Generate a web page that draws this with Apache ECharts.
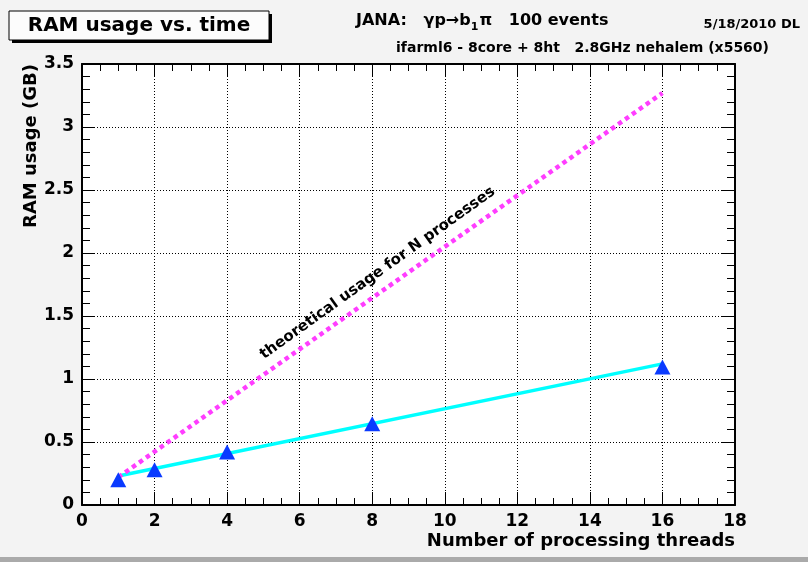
<!DOCTYPE html>
<html>
<head>
<meta charset="utf-8">
<script src="https://cdn.jsdelivr.net/npm/echarts@6/dist/echarts.min.js"></script>
<style>
  html, body { margin: 0; padding: 0; background: #f3f3f3; }
  #main { width: 808px; height: 562px; }
</style>
</head>
<body>
<div id="main"></div>
<script>
  // measured points (threads -> RAM in GB)
  let threads = [1, 2, 4, 8, 16];
  let ramGB = [0.20, 0.28, 0.42, 0.645, 1.095];
  // straight-line fit through the points
  let fitX = [1, 16];
  let fitY = [0.23, 1.12];
  // theoretical usage for N separate processes
  let theoryX = [1, 16];
  let theoryY = [0.22, 3.27];

  let font = 'DejaVu Sans';

  function frameAxis(position, isX, showLabel) {
    return {
      type: 'value',
      position: position,
      min: 0,
      max: isX ? 18 : 3.5,
      interval: isX ? 2 : 0.5,
      axisLine: { show: true, onZero: false, lineStyle: { color: '#000', width: 2 } },
      axisTick: { show: true, inside: true, length: 13, lineStyle: { color: '#000', width: 1 } },
      minorTick: { show: true, splitNumber: isX ? 4 : 5, length: isX ? 7 : 8, lineStyle: { color: '#000', width: 1 } },
      axisLabel: {
        show: showLabel,
        margin: 8,
        color: '#000',
        fontFamily: font,
        fontWeight: 'bold',
        fontSize: 17
      },
      splitLine: { show: showLabel, lineStyle: { color: '#000', width: 1, type: [1, 2] } }
    };
  }

  function pairs(xs, ys) {
    return xs.map(function (x, i) { return [x, ys[i]]; });
  }

  let chart = echarts.init(document.getElementById('main'));

  let option = {
    backgroundColor: '#f3f3f3',
    animation: false,
    grid: {
      left: 82, right: 73, top: 64, bottom: 57,
      show: true, backgroundColor: '#fff', borderWidth: 0
    },
    xAxis: [frameAxis('bottom', true, true), frameAxis('top', true, false)],
    yAxis: [frameAxis('left', false, true), frameAxis('right', false, false)],
    series: [
      {
        name: 'fit',
        type: 'line',
        data: pairs(fitX, fitY),
        symbol: 'none',
        lineStyle: { color: '#00ffff', width: 3.5 },
        z: 3
      },
      {
        name: 'theoretical',
        type: 'line',
        data: pairs(theoryX, theoryY),
        symbol: 'none',
        lineStyle: { color: '#ff3dff', width: 4.5, type: [4.5, 4], cap: 'butt' },
        z: 3
      },
      {
        name: 'RAM',
        type: 'scatter',
        data: pairs(threads, ramGB),
        symbol: 'triangle',
        symbolSize: [16, 15],
        itemStyle: { color: '#0a3aff', opacity: 1 },
        z: 5
      }
    ],
    graphic: [
      // title box with shadow
      { type: 'rect', shape: { x: 12, y: 14, width: 260, height: 29 }, style: { fill: '#000' } },
      { type: 'rect', shape: { x: 9, y: 11, width: 260, height: 29 }, style: { fill: '#fcfcfc', stroke: '#000', lineWidth: 1 } },
      {
        type: 'text', x: 139, y: 26,
        style: { text: 'RAM usage vs. time', font: 'bold 20px "DejaVu Sans"', fill: '#000', align: 'center', verticalAlign: 'middle' }
      },
      {
        type: 'text', x: 356, y: 13,
        style: {
          text: '{a|JANA:   γp→b}{s|1}{a|π   100 events}',
          fill: '#000',
          rich: {
            a: { fontFamily: font, fontWeight: 'bold', fontSize: 16, lineHeight: 20, verticalAlign: 'top' },
            s: { fontFamily: font, fontWeight: 'bold', fontSize: 11, lineHeight: 11, padding: [16, 1, 0, 0], verticalAlign: 'bottom' }
          }
        }
      },
      {
        type: 'text', x: 800, y: 25,
        style: { text: '5/18/2010 DL', font: 'bold 13px "DejaVu Sans"', fill: '#000', align: 'right', verticalAlign: 'middle' }
      },
      {
        type: 'text', x: 769, y: 48,
        style: { text: 'ifarml6 - 8core + 8ht   2.8GHz nehalem (x5560)', font: 'bold 14px "DejaVu Sans"', fill: '#000', align: 'right', verticalAlign: 'middle' }
      },
      // axis titles
      {
        type: 'text', x: 735, y: 541,
        style: { text: 'Number of processing threads', font: 'bold 18px "DejaVu Sans"', fill: '#000', align: 'right', verticalAlign: 'middle' }
      },
      {
        type: 'text', x: 31, y: 64, rotation: Math.PI / 2,
        style: { text: 'RAM usage (GB)', font: 'bold 18px "DejaVu Sans"', fill: '#000', align: 'right', verticalAlign: 'middle' }
      },
      // bottom edge strip
      { type: 'rect', shape: { x: 0, y: 557, width: 808, height: 5 }, style: { fill: '#aaaaaa' } }
    ]
  };
  chart.setOption(option);

  // annotation along the theoretical line, placed through the axes
  let p = chart.convertToPixel({ gridIndex: 0 }, [8.15, 1.84]);
  chart.setOption({
    graphic: option.graphic.concat([{
      type: 'text', x: p[0], y: p[1], rotation: 35.6 * Math.PI / 180,
      style: { text: 'theoretical usage for N processes', font: 'bold 15px "DejaVu Sans"', fill: '#000', align: 'center', verticalAlign: 'middle' }
    }])
  });
</script>
</body>
</html>
